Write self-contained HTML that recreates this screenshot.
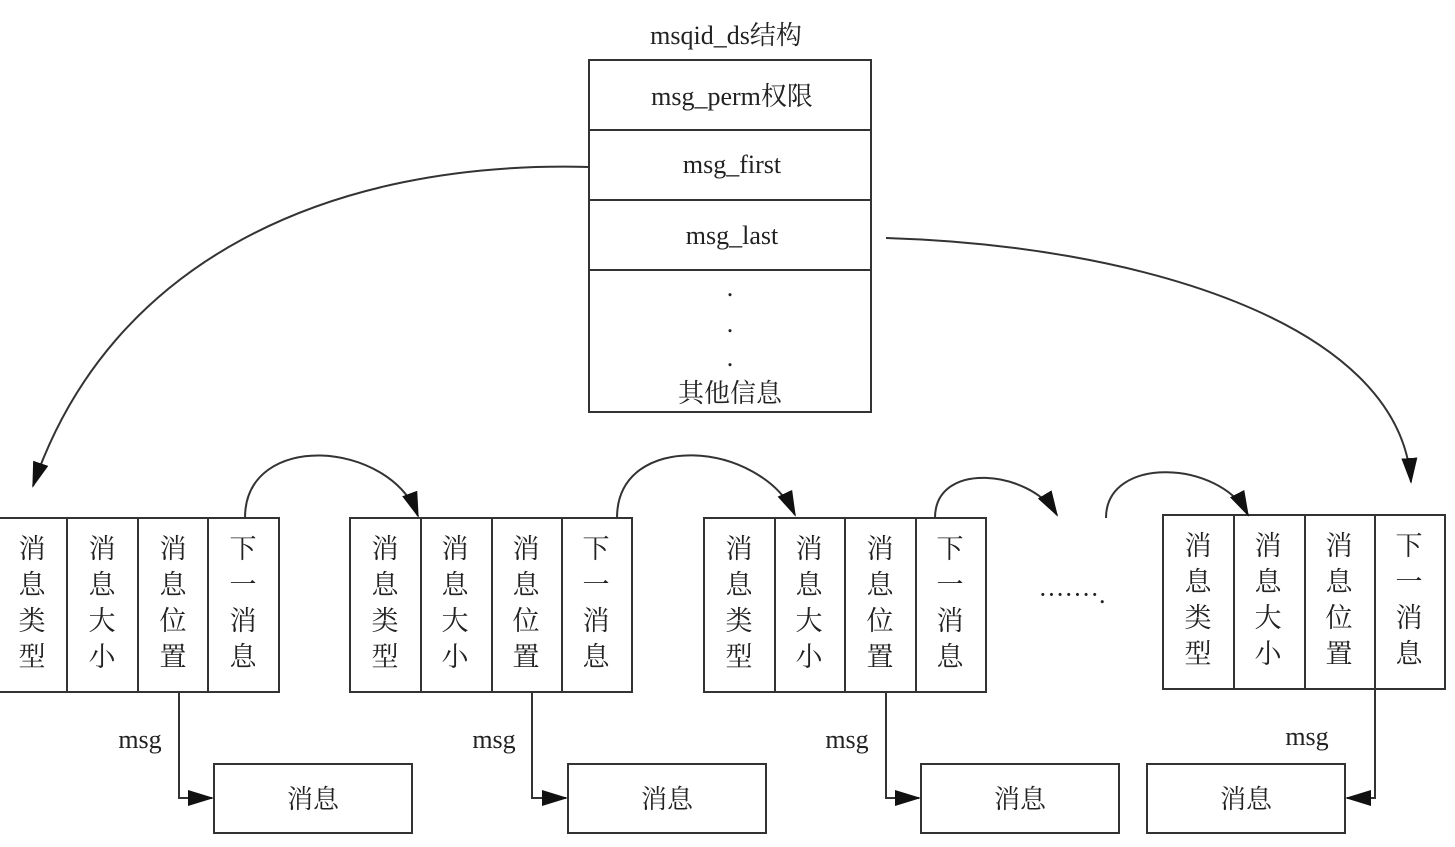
<!DOCTYPE html>
<html><head><meta charset="utf-8"><style>
body{margin:0;background:#fff;}
svg text{font-family:"Liberation Serif","Noto Serif CJK SC",serif;fill:#222;}
</style></head><body>
<svg width="1455" height="842" viewBox="0 0 1455 842" xmlns="http://www.w3.org/2000/svg">
<defs><marker id="a" markerWidth="10" markerHeight="10" refX="9" refY="5" orient="auto" markerUnits="userSpaceOnUse" viewBox="0 0 10 10"><path d="M0,0 L10,5 L0,10z" fill="#111"/></marker>
<marker id="b" markerWidth="26" markerHeight="20" refX="24" refY="10" orient="auto" markerUnits="userSpaceOnUse" viewBox="0 0 26 20"><path d="M0,2 L26,10 L0,18z" fill="#111"/></marker></defs>
<g stroke="#333" stroke-width="2" fill="none">
<rect x="589" y="60" width="282" height="352"/>
<line x1="589" y1="130" x2="871" y2="130"/><line x1="589" y1="200" x2="871" y2="200"/><line x1="589" y1="270" x2="871" y2="270"/>
<rect x="-2" y="518" width="281" height="174"/><line x1="67" y1="518" x2="67" y2="692"/><line x1="138" y1="518" x2="138" y2="692"/><line x1="208" y1="518" x2="208" y2="692"/>
<rect x="350" y="518" width="282" height="174"/><line x1="421" y1="518" x2="421" y2="692"/><line x1="492" y1="518" x2="492" y2="692"/><line x1="562" y1="518" x2="562" y2="692"/>
<rect x="704" y="518" width="282" height="174"/><line x1="775" y1="518" x2="775" y2="692"/><line x1="845" y1="518" x2="845" y2="692"/><line x1="916" y1="518" x2="916" y2="692"/>
<rect x="1163" y="515" width="282" height="174"/><line x1="1234" y1="515" x2="1234" y2="689"/><line x1="1305" y1="515" x2="1305" y2="689"/><line x1="1375" y1="515" x2="1375" y2="689"/>
<rect x="214" y="764" width="198" height="69"/><rect x="568" y="764" width="198" height="69"/><rect x="921" y="764" width="198" height="69"/><rect x="1147" y="764" width="198" height="69"/>
<polyline points="179,692 179,798 212,798" marker-end="url(#b)"/>
<polyline points="532,692 532,798 566,798" marker-end="url(#b)"/>
<polyline points="886,692 886,798 919,798" marker-end="url(#b)"/>
<polyline points="1375,689 1375,798 1347,798" marker-end="url(#b)"/>
<path d="M589,167 C330,160 110,260 33,486" marker-end="url(#b)"/>
<path d="M886,238 C1130,245 1400,320 1411,482" marker-end="url(#b)"/>
<path d="M245,518 C245,430 390,440 418,516" marker-end="url(#b)"/>
<path d="M617,518 C617,430 760,440 795,515" marker-end="url(#b)"/>
<path d="M935,518 C935,460 1030,470 1057,515" marker-end="url(#b)"/>
<path d="M1106,518 C1106,455 1220,460 1248,515" marker-end="url(#b)"/>
</g>
<g font-size="26" text-anchor="middle">
<text x="726" y="44">msqid_ds结构</text>
<text x="732" y="105">msg_perm权限</text>
<text x="732" y="173">msg_first</text>
<text x="732" y="244">msg_last</text>
<text x="730" y="296">.</text><text x="730" y="332">.</text><text x="730" y="366">.</text>
<text x="730" y="402">其他信息</text>
<text x="1072" y="603">·······.</text>
<text x="140" y="748">msg</text><text x="494" y="748">msg</text><text x="847" y="748">msg</text><text x="1307" y="745">msg</text>
<text x="313" y="808">消息</text><text x="667" y="808">消息</text><text x="1020" y="808">消息</text><text x="1246" y="808">消息</text>
</g>
<g font-size="27" text-anchor="middle">
<g transform="translate(0,0)">
<text x="32" y="558">消</text><text x="32" y="594">息</text><text x="32" y="630">类</text><text x="32" y="666">型</text>
<text x="102" y="558">消</text><text x="102" y="594">息</text><text x="102" y="630">大</text><text x="102" y="666">小</text>
<text x="173" y="558">消</text><text x="173" y="594">息</text><text x="173" y="630">位</text><text x="173" y="666">置</text>
<text x="243" y="558">下</text><text x="243" y="594">一</text><text x="243" y="630">消</text><text x="243" y="666">息</text>
</g>
<g transform="translate(353,0)">
<text x="32" y="558">消</text><text x="32" y="594">息</text><text x="32" y="630">类</text><text x="32" y="666">型</text>
<text x="102" y="558">消</text><text x="102" y="594">息</text><text x="102" y="630">大</text><text x="102" y="666">小</text>
<text x="173" y="558">消</text><text x="173" y="594">息</text><text x="173" y="630">位</text><text x="173" y="666">置</text>
<text x="243" y="558">下</text><text x="243" y="594">一</text><text x="243" y="630">消</text><text x="243" y="666">息</text>
</g>
<g transform="translate(707,0)">
<text x="32" y="558">消</text><text x="32" y="594">息</text><text x="32" y="630">类</text><text x="32" y="666">型</text>
<text x="102" y="558">消</text><text x="102" y="594">息</text><text x="102" y="630">大</text><text x="102" y="666">小</text>
<text x="173" y="558">消</text><text x="173" y="594">息</text><text x="173" y="630">位</text><text x="173" y="666">置</text>
<text x="243" y="558">下</text><text x="243" y="594">一</text><text x="243" y="630">消</text><text x="243" y="666">息</text>
</g>
<g transform="translate(1166,-3)">
<text x="32" y="558">消</text><text x="32" y="594">息</text><text x="32" y="630">类</text><text x="32" y="666">型</text>
<text x="102" y="558">消</text><text x="102" y="594">息</text><text x="102" y="630">大</text><text x="102" y="666">小</text>
<text x="173" y="558">消</text><text x="173" y="594">息</text><text x="173" y="630">位</text><text x="173" y="666">置</text>
<text x="243" y="558">下</text><text x="243" y="594">一</text><text x="243" y="630">消</text><text x="243" y="666">息</text>
</g>
</g>
</svg>
</body></html>
